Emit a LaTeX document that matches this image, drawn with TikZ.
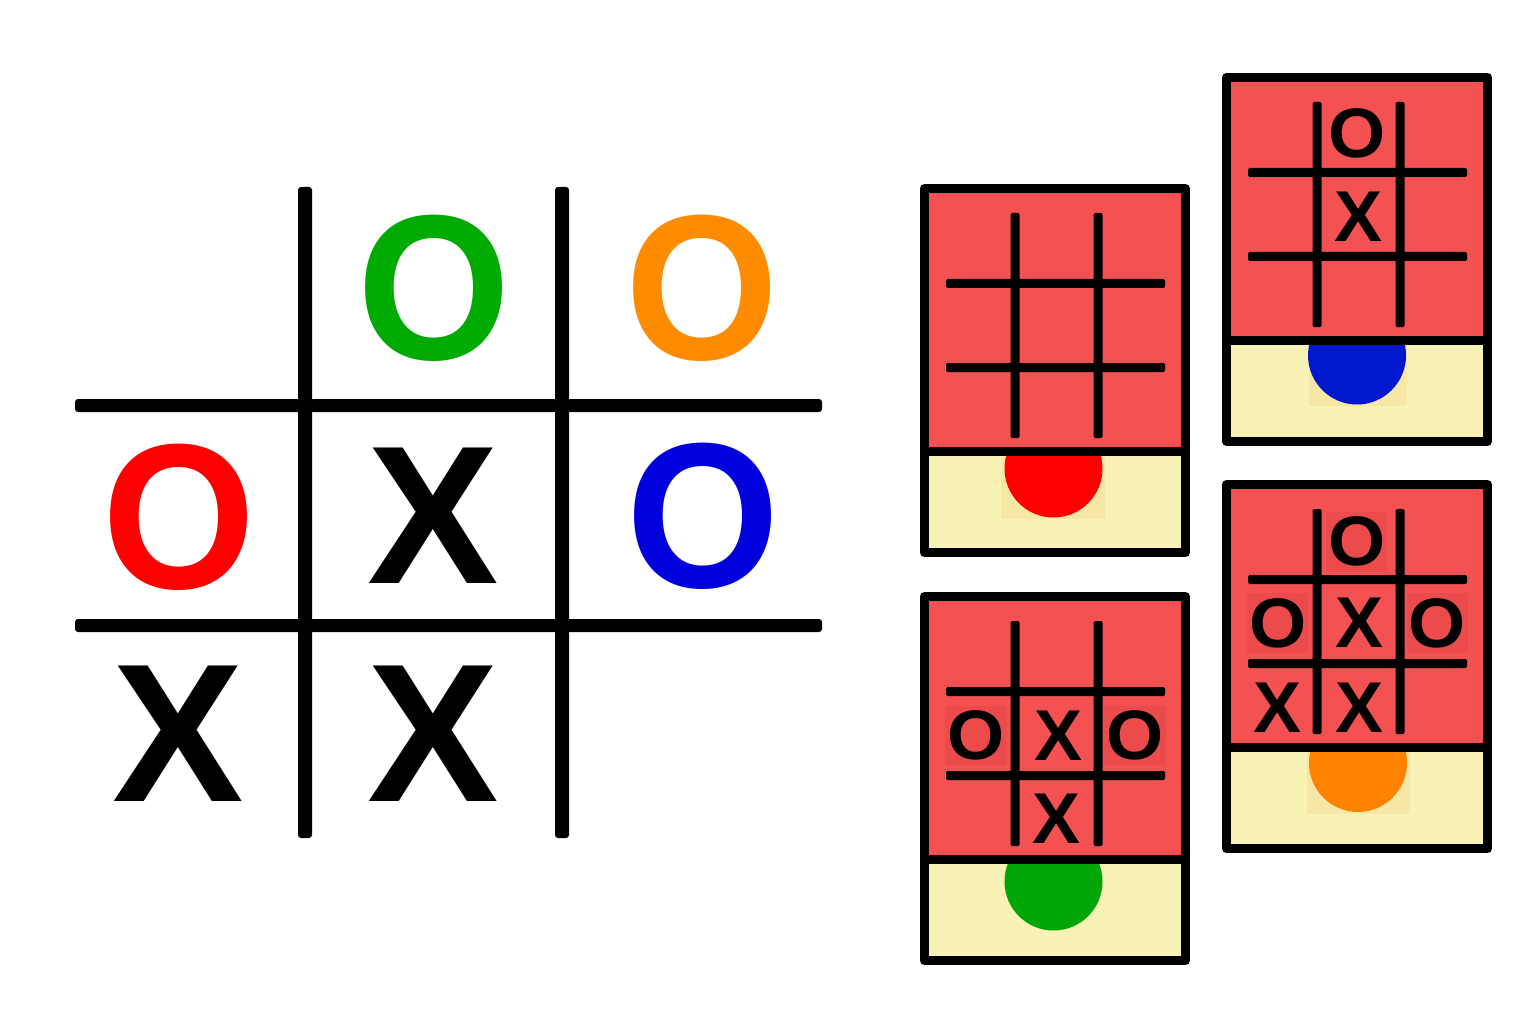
\documentclass[tikz,border=0pt]{standalone}
\usepackage{fontspec}
\setmainfont{Liberation Sans}
\definecolor{cardred}{HTML}{F45252}
\definecolor{cellshade}{HTML}{EC4B4B}
\definecolor{cardyellow}{HTML}{F8F2B4}
\definecolor{dotshade}{HTML}{F6E7A6}
\definecolor{ogreen}{HTML}{00AA00}
\definecolor{oorange}{HTML}{FF8C00}
\definecolor{ored}{HTML}{FF0000}
\definecolor{oblue}{HTML}{0000DD}
\definecolor{dred}{HTML}{FF0000}
\definecolor{dblue}{HTML}{0218CE}
\definecolor{dorange}{HTML}{FF8300}
\definecolor{dgreen}{HTML}{00A508}
\newcommand\tttcardbase{%
  \fill[cardred] (4.5,4.5) rectangle (265.5,267.5);
  \fill[cardyellow] (4.5,267.5) rectangle (265.5,368.5);
}
\newcommand\tttcardgrid{%
  \fill[cardgrid] (90.5,29) rectangle (99.5,254);
  \fill[cardgrid] (173.5,29) rectangle (182.5,254);
  \fill[cardgrid] (26,95) rectangle (245,104);
  \fill[cardgrid] (26,179) rectangle (245,188);
}
\newcommand\tttcarddot[3]{% #1 colour, #2 x, #3 y
  \begin{scope}
    \clip (4.5,267.5) rectangle (265.5,368.5);
    \fill[#1] (#2,#3) circle (49);
  \end{scope}
}
\newcommand\tttcardframe{%
  \draw[cardframe] (4.5,4.5) rectangle (265.5,368.5);
  \draw[cardframe] (4.5,267.5) -- (265.5,267.5);
}
\begin{document}
\begin{tikzpicture}[x=1pt,y=-1pt,
  mainline/.style={fill=black, rounded corners=3pt},
  bigmark/.style={font=\fontsize{197}{197}\selectfont\bfseries, inner sep=0pt, outer sep=0pt},
  bigo/.style={bigmark, yscale=1.05},
  cardmark/.style={font=\fontsize{72}{72}\selectfont\bfseries, inner sep=0pt, outer sep=0pt},
  cardo/.style={font=\fontsize{70}{70}\selectfont\bfseries, inner sep=0pt, outer sep=0pt, xscale=1.05},
  cardgrid/.style={fill=black, rounded corners=1.5pt},
  cardframe/.style={line width=9pt, line join=round}]
\useasboundingbox (0,0) rectangle (1536,1024);
\fill[white] (0,0) rectangle (1536,1024);

% main board
\fill[mainline] (298,187) rectangle (312,838);
\fill[mainline] (555,187) rectangle (569,838);
\fill[mainline] (75,399) rectangle (822,412);
\fill[mainline] (75,619) rectangle (822,632);

\node[bigo, text=ogreen]  (m12) at (434.5,288.5) {O};
\node[bigo, text=oorange] (m13) at (702.5,288.5) {O};
\node[bigo, text=ored]    (m21) at (179.5,517) {O};
\node[bigmark, text=black] (m22) at (433.5,516) {X};
\node[bigo, text=oblue]   (m23) at (703,516.5) {O};
\node[bigmark, text=black] (m31) at (178,734) {X};
\node[bigmark, text=black] (m32) at (433,734) {X};

% card 1 (empty board, red dot)
\begin{scope}[shift={(920,184)}]
  \tttcardbase
  \fill[dotshade] (81,273) rectangle (185,335);
  \tttcarddot{dred}{133.5}{284.5}
  \tttcardgrid
  \tttcardframe
\end{scope}

% card 2 (O top, X centre, blue dot)
\begin{scope}[shift={(1222,73)}]
  \tttcardbase
  \fill[dotshade] (87,272) rectangle (185,333);
  \tttcarddot{dblue}{135}{282.5}
  \tttcardgrid
  \node[cardo] (c2o12) at (135,60.5) {O};
  \node[cardmark] (c2x22) at (136,144) {X};
  \tttcardframe
\end{scope}

% card 3 (orange dot)
\begin{scope}[shift={(1222,480)}]
  \tttcardbase
  \fill[cellshade] (104,32) rectangle (165,92);
  \fill[cellshade] (25,113) rectangle (86,173);
  \fill[cellshade] (185,113) rectangle (246,173);
  \fill[dotshade] (85,272) rectangle (188,334);
  \tttcarddot{dorange}{136}{283}
  \tttcardgrid
  \node[cardo] (c3o12) at (135.5,61) {O};
  \node[cardo] (c3o21) at (56,143) {O};
  \node[cardmark] (c3x22) at (137,143) {X};
  \node[cardo] (c3o23) at (215.5,143) {O};
  \node[cardmark] (c3x31) at (55,228) {X};
  \node[cardmark] (c3x32) at (137,228) {X};
  \tttcardframe
\end{scope}

% card 4 (green dot)
\begin{scope}[shift={(920,592)}]
  \tttcardbase
  \fill[cellshade] (25,114) rectangle (87,173);
  \fill[cellshade] (183,114) rectangle (246,173);
  \tttcarddot{dgreen}{133.5}{289.5}
  \tttcardgrid
  \node[cardo] (c4o21) at (56,143) {O};
  \node[cardmark] (c4x22) at (138,144) {X};
  \node[cardo] (c4o23) at (215.5,143) {O};
  \node[cardmark] (c4x32) at (136,227) {X};
  \tttcardframe
\end{scope}
\end{tikzpicture}
\end{document}
